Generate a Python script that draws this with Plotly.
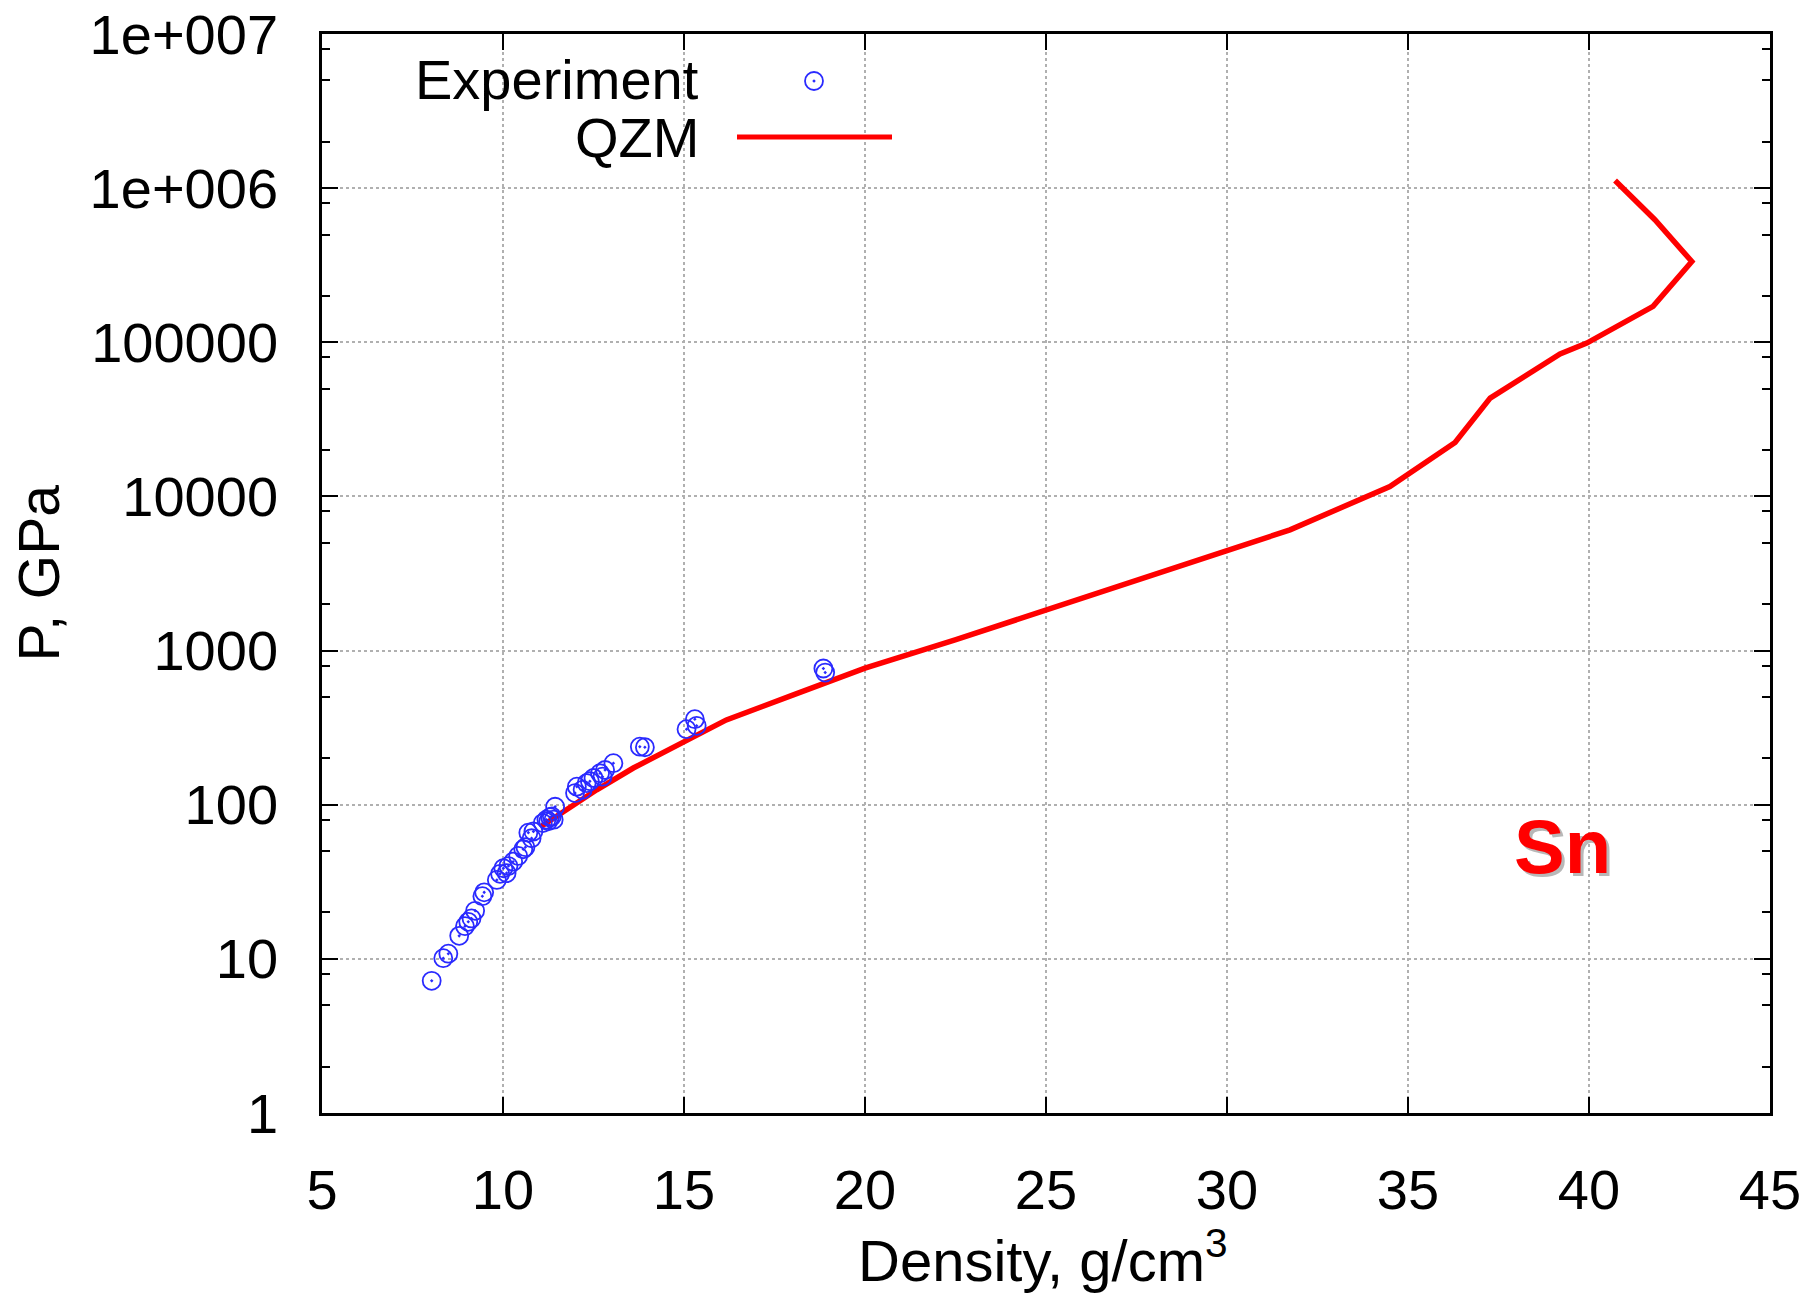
import plotly.graph_objects as go
import numpy as np

# ---------------- data ----------------
exp_density = [8.03, 8.35, 8.49, 8.79, 8.95, 9.04, 9.13, 9.23, 9.43, 9.48,
               9.83, 9.92, 10.01, 10.10, 10.15, 10.28, 10.42, 10.56, 10.62, 10.70,
               10.79, 10.84, 11.10, 11.20, 11.25, 11.30, 11.35, 11.40, 11.44, 11.99,
               12.04, 12.20, 12.31, 12.40, 12.50, 12.68, 12.75, 12.82, 13.05, 13.78,
               13.92, 15.07, 15.30, 15.35, 18.85, 18.90]
exp_pressure = [7.2, 10.1, 10.8, 14.1, 16.3, 17.4, 18.3, 20.5, 25.5, 27.0,
                32.5, 35.6, 38.7, 36.0, 40.0, 42.7, 46.5, 51.4, 53.0, 65.9,
                60.6, 67.0, 76.0, 80.0, 78.0, 83.0, 84.0, 80.0, 97.0, 119.0,
                131.0, 125.0, 138.0, 142.0, 149.0, 160.0, 152.0, 168.0, 186.0, 238.0,
                236.0, 309.0, 359.0, 325.0, 765.0, 720.0]

qzm_density = [11.04, 11.67, 12.59, 13.6, 15.0, 16.17, 18.02, 20.0, 22.49, 25.0,
               27.41, 30.0, 31.74, 34.5, 36.3, 37.27, 39.2, 39.94, 41.77, 42.84,
               41.82, 40.72]
qzm_pressure = [72, 90, 125, 173, 257, 355, 516, 769, 1173, 1819,
                2805, 4450, 6070, 11600, 22400, 43400, 84000, 98800, 171000, 334000,
                624000, 1120000]

y_tickvals = [1, 10, 100, 1000, 10000, 100000, 1000000, 10000000]
y_ticktext = ["1", "10", "100", "1000", "10000", "100000", "1e+006", "1e+007"]
x_tickvals = [5, 10, 15, 20, 25, 30, 35, 40, 45]

legend_names = ["Experiment", "QZM"]

# ---------------- layout constants ----------------
W, H = 1818, 1294
L, R, T, B = 322, 1770, 34, 1113
FONT = "Liberation Sans, Arial, sans-serif"
BLUE = "#2a2aff"
RED = "#ff0000"

minor_vals = []
for e in range(0, 7):
    for m in (2, 5, 8):
        minor_vals.append(m * 10 ** e)

fig = go.Figure()

fig.add_trace(go.Scatter(
    x=qzm_density, y=qzm_pressure, mode="lines",
    line=dict(color=RED, width=5.5), name=legend_names[1], showlegend=False,
))
fig.add_trace(go.Scatter(
    x=exp_density, y=exp_pressure, mode="markers",
    marker=dict(symbol="circle-open-dot", size=18, color=BLUE, line=dict(width=1.8, color=BLUE)),
    name=legend_names[0], showlegend=False,
))

# legend glyphs on a pixel-based overlay axis
fig.add_trace(go.Scatter(
    x=[814], y=[81], mode="markers", xaxis="x2", yaxis="y2",
    marker=dict(symbol="circle-open-dot", size=18, color=BLUE, line=dict(width=1.8, color=BLUE)),
    showlegend=False, hoverinfo="skip",
))
fig.add_trace(go.Scatter(
    x=[737, 892], y=[137, 137], mode="lines", xaxis="x2", yaxis="y2",
    line=dict(color=RED, width=5), showlegend=False, hoverinfo="skip",
))

axis_common = dict(
    showline=True, linecolor="black", linewidth=2.5, mirror="ticks",
    ticks="inside", ticklen=16, tickwidth=2, tickcolor="black",
    showgrid=True, gridcolor="#b0b0b0", gridwidth=1.5, griddash="dot",
    zeroline=False, automargin=False,
    tickfont=dict(family=FONT, size=56, color="black"),
)

fig.update_layout(
    width=W, height=H,
    margin=dict(l=L, r=W - R, t=T, b=H - B, pad=0, autoexpand=False),
    paper_bgcolor="white", plot_bgcolor="white",
    showlegend=False,
    xaxis=dict(range=[5, 45], tickvals=x_tickvals, ticklabelstandoff=26, **axis_common),
    yaxis=dict(type="log", range=[0, 7], tickvals=y_tickvals, ticktext=y_ticktext,
               ticklabelstandoff=30,
               minor=dict(tickvals=minor_vals, ticks="inside", ticklen=8, tickwidth=2,
                          tickcolor="black", showgrid=False),
               **axis_common),
    xaxis2=dict(overlaying="x", range=[L, R], visible=False, anchor="y2"),
    yaxis2=dict(overlaying="y", range=[B, T], visible=False, anchor="x2"),
    shapes=[dict(type="rect", xref="paper", yref="paper",
                 x0=(400 - L) / (R - L), x1=(935 - L) / (R - L),
                 y0=(B - 168) / (B - T), y1=1.0,
                 fillcolor="white", line=dict(width=0), layer="between")],
)

annotations = [
    dict(text=legend_names[0], xref="x2", yref="y2", x=701, y=79, xanchor="right", yanchor="middle",
         showarrow=False, font=dict(family=FONT, size=56, color="black")),
    dict(text=legend_names[1], xref="x2", yref="y2", x=701, y=137, xanchor="right", yanchor="middle",
         showarrow=False, font=dict(family=FONT, size=56, color="black")),
    dict(text="P, GPa", xref="paper", yref="paper", x=(38 - L) / (R - L), y=0.5,
         xanchor="center", yanchor="middle", textangle=-90, showarrow=False,
         font=dict(family=FONT, size=57, color="black")),
    dict(text="Density, g/cm<sup>3</sup>", xref="paper", yref="paper",
         x=(1043 - L) / (R - L), y=(B - 1256) / (B - T),
         xanchor="center", yanchor="middle", showarrow=False,
         font=dict(family=FONT, size=58, color="black")),
    dict(text="<b>Sn</b>", xref="x", yref="y", x=39.28, y=np.log10(53.2),
         xshift=3, yshift=-3, showarrow=False,
         font=dict(family=FONT, size=76, color="#b8b8b8")),
    dict(text="<b>Sn</b>", xref="x", yref="y", x=39.28, y=np.log10(53.2),
         showarrow=False, font=dict(family=FONT, size=76, color=RED)),
]
fig.update_layout(annotations=annotations)

fig.write_html("out.html")
